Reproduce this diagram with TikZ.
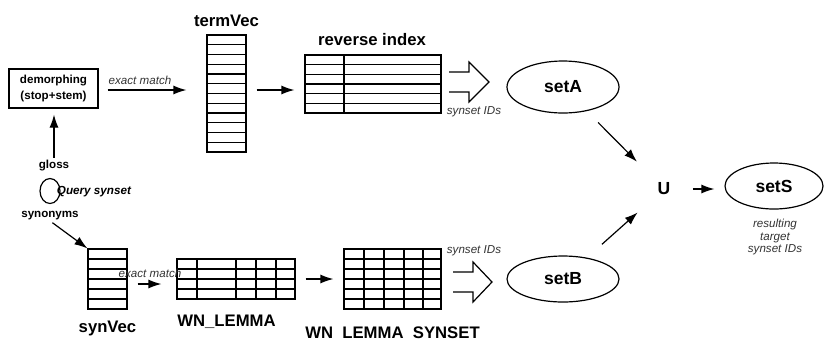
\documentclass[tikz,border=0pt]{standalone}
\usepackage{fontspec}
\setmainfont{Liberation Sans}
\usetikzlibrary{arrows.meta,shapes.geometric}
\begin{document}
\begin{tikzpicture}[x=1bp,y=-1bp,
  line width=1.2bp,
  arr/.style={-{Latex[length=13bp,width=9bp]}},
  big/.style={font=\fontsize{16.7bp}{18bp}\selectfont\bfseries, inner sep=0},
  setnode/.style={draw, ellipse, font=\fontsize{17.5bp}{19bp}\selectfont\bfseries, inner sep=0},
  small/.style={font=\fontsize{11.6bp}{16bp}\selectfont\bfseries, inner sep=0},
  note/.style={font=\fontsize{11.6bp}{12.5bp}\selectfont\itshape, inner sep=0, text=black!80},
  tbl/.style={draw, inner sep=0},
]
\useasboundingbox (0,0) rectangle (824,341);
\coordinate (r1) at (0,90);
\coordinate (r2) at (0,284);

% demorphing box
\node[draw, small, align=center, minimum width=89bp, minimum height=39bp] (demorph) at (53.5,88.5) {demorphing\\(stop+stem)};

% termVec
\node[tbl, minimum width=39bp, minimum height=117bp] (termVec) at (226.5,93.5) {};
\foreach \i in {1,...,11} \draw (207,{35+9.75*\i}) -- (246,{35+9.75*\i});
\node[big] (termVecLbl) at (226.5,21) {termVec};

% reverse index
\node[tbl, minimum width=136bp, minimum height=58bp] (revidx) at (373,84) {};
\foreach \i in {1,...,5} \draw (305,{55+9.667*\i}) -- (441,{55+9.667*\i});
\draw (344,55) -- (344,113);
\node[big] (revidxLbl) at (372,40) {reverse index};

% hollow arrow A
\draw (449,72) -- (469,72) -- (469,62) -- (489,82) -- (469,102) -- (469,92) -- (449,92);
\node[note] (idsA) at (474,112) {synset IDs};

% sets
\node[setnode, minimum width=112bp, minimum height=52bp] (setA) at (563,87) {setA};
\node[setnode, minimum width=112bp, minimum height=46bp] (setB) at (563,279) {setB};
\node[setnode, minimum width=98bp, minimum height=46bp] (setS) at (774,186) {setS};
\node[font=\fontsize{17.5bp}{19bp}\selectfont\bfseries, inner sep=0] (U) at (664,189) {U};
\node[note, align=center] (result) at (775,237) {resulting\\target\\synset IDs};

% query synset
\node[draw, ellipse, minimum width=20bp, minimum height=25bp, inner sep=0] (query) at (50,191) {};
\node[font=\fontsize{11.7bp}{12bp}\selectfont\bfseries\itshape, inner sep=0] (queryLbl) at (94,192) {Query synset};
\node[small] (gloss) at (54,166) {gloss};
\node[small] (synonyms) at (50,216) {synonyms};

% synVec
\node[tbl, minimum width=39bp, minimum height=60bp] (synVec) at (107.5,279) {};
\foreach \i in {1,...,5} \draw (88,{249+10*\i}) -- (127,{249+10*\i});
\node[big] (synVecLbl) at (107.5,328) {synVec};

% WN_LEMMA
\node[tbl, minimum width=118bp, minimum height=40bp] (wnl) at (236,279) {};
\foreach \i in {1,...,3} \draw (177,{259+10*\i}) -- (295,{259+10*\i});
\foreach \x in {197,236,256,276} \draw (\x,259) -- (\x,299);
\node[big] (wnlLbl) at (226.5,322) {WN\_LEMMA};

% WN LEMMA SYNSET
\node[tbl, minimum width=97bp, minimum height=60bp] (wls) at (392.5,279) {};
\foreach \i in {1,...,5} \draw (344,{249+10*\i}) -- (441,{249+10*\i});
\foreach \x in {364,384,404,423} \draw (\x,249) -- (\x,309);
\node[big] (wlsLbl) at (392.5,333) {WN\ \ LEMMA\ \ SYNSET};

% hollow arrow B
\draw (453,272) -- (473,272) -- (473,262) -- (492,282) -- (473,302) -- (473,292) -- (453,292);
\node[note] (idsB) at (474,251) {synset IDs};

% connectors
\draw[arr, shorten <=9bp, shorten >=20bp] (demorph.east |- r1) -- (termVec.west |- r1);
\node[note] (em1) at (140,80) {exact match};
\draw[arr, shorten >=6bp, shorten <=2bp] (gloss.north) -- (gloss.north |- demorph.south);
\draw[arr, shorten <=10bp, shorten >=10bp] (termVec.east |- r1) -- (revidx.west |- r1);
\draw[arr, shorten <=16bp, shorten >=29bp] (setA) -- (U);
\draw[arr, shorten <=20bp, shorten >=26bp] (setB) -- (U);
\draw[arr, shorten <=22bp, shorten >=10bp] (U.east) -- (U.east -| setS.west);
\draw[arr, shorten <=3bp] (synonyms.south) -- (synVec.north west);
\draw[arr, shorten <=10bp, shorten >=15bp] (synVec.east |- r2) -- (wnl.west |- r2);
\node[note] (em2) at (150,273) {exact match};
\draw[arr, shorten <=10bp, shorten >=10bp] (wnl.east) -- (wls.west);
\end{tikzpicture}
\end{document}
